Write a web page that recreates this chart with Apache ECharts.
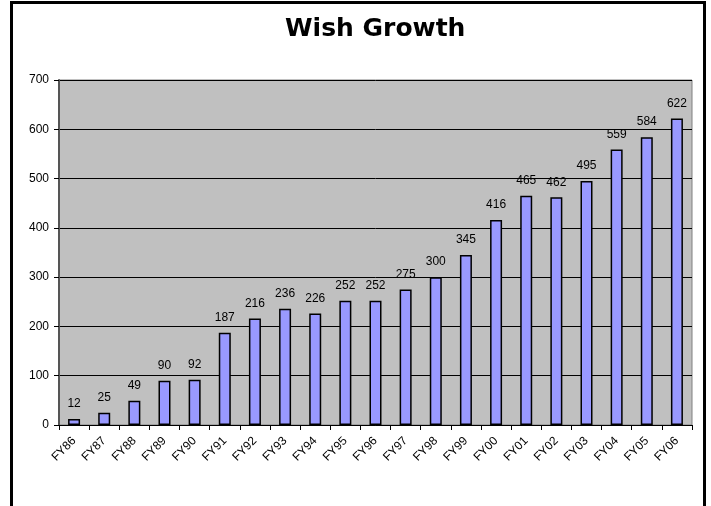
<!DOCTYPE html>
<html>
<head>
<meta charset="utf-8">
<script src="https://cdn.jsdelivr.net/npm/echarts@6/dist/echarts.min.js"></script>
<style>
  html, body { margin: 0; padding: 0; background: #fff; }
  #chart { width: 711px; height: 506px; }
</style>
</head>
<body>
<div id="chart"></div>
<script>
// Fiscal years shown along the bottom axis
const years = ['FY86','FY87','FY88','FY89','FY90','FY91','FY92','FY93','FY94','FY95','FY96',
               'FY97','FY98','FY99','FY00','FY01','FY02','FY03','FY04','FY05','FY06'];
// Wishes granted per fiscal year
const wishes = [12, 25, 49, 90, 92, 187, 216, 236, 226, 252, 252,
                275, 300, 345, 416, 465, 462, 495, 559, 584, 622];
// Value axis range
const yMin = 0, yMax = 700, yStep = 100;

const chart = echarts.init(document.getElementById('chart'), null, { renderer: 'canvas' });
const labelFont = '"Liberation Sans", Arial, sans-serif';

chart.setOption({
  animation: false,
  backgroundColor: '#ffffff',
  title: {
    text: 'Wish Growth',
    left: 280,
    top: 12,
    textStyle: {
      fontFamily: '"DejaVu Sans", sans-serif',
      fontWeight: 'bold',
      fontSize: 25,
      color: '#000'
    }
  },
  graphic: [{
    type: 'rect',
    shape: { x: 11.5, y: 2.5, width: 693, height: 520 },
    style: { fill: null, stroke: '#000', lineWidth: 3 },
    silent: true,
    z: 100
  }],
  grid: {
    left: 59, right: 19, top: 80, bottom: 81,
    show: true,
    backgroundColor: '#c0c0c0',
    borderColor: '#808080',
    borderWidth: 1
  },
  xAxis: {
    type: 'category',
    data: years,
    boundaryGap: true,
    axisLine: { show: true, lineStyle: { color: '#000', width: 1 } },
    axisTick: { show: true, alignWithLabel: false, length: 5, lineStyle: { color: '#000' } },
    axisLabel: {
      rotate: 45,
      interval: 0,
      margin: 14,
      fontFamily: labelFont,
      fontSize: 12,
      color: '#000'
    }
  },
  yAxis: {
    type: 'value',
    min: yMin, max: yMax, interval: yStep,
    axisLine: { show: true, lineStyle: { color: '#555', width: 2 } },
    axisTick: { show: true, length: 5, lineStyle: { color: '#000' } },
    splitLine: { show: true, lineStyle: { color: '#000', width: 1 } },
    axisLabel: {
      margin: 10,
      fontFamily: labelFont,
      fontSize: 12,
      color: '#000'
    }
  },
  series: [{
    type: 'bar',
    data: wishes,
    barWidth: 12,
    itemStyle: { color: '#9999ff', borderColor: '#000', borderWidth: 1.5 },
    label: {
      show: true,
      position: 'top',
      distance: 9,
      fontFamily: labelFont,
      fontSize: 12,
      color: '#000'
    }
  }]
});
</script>
</body>
</html>
